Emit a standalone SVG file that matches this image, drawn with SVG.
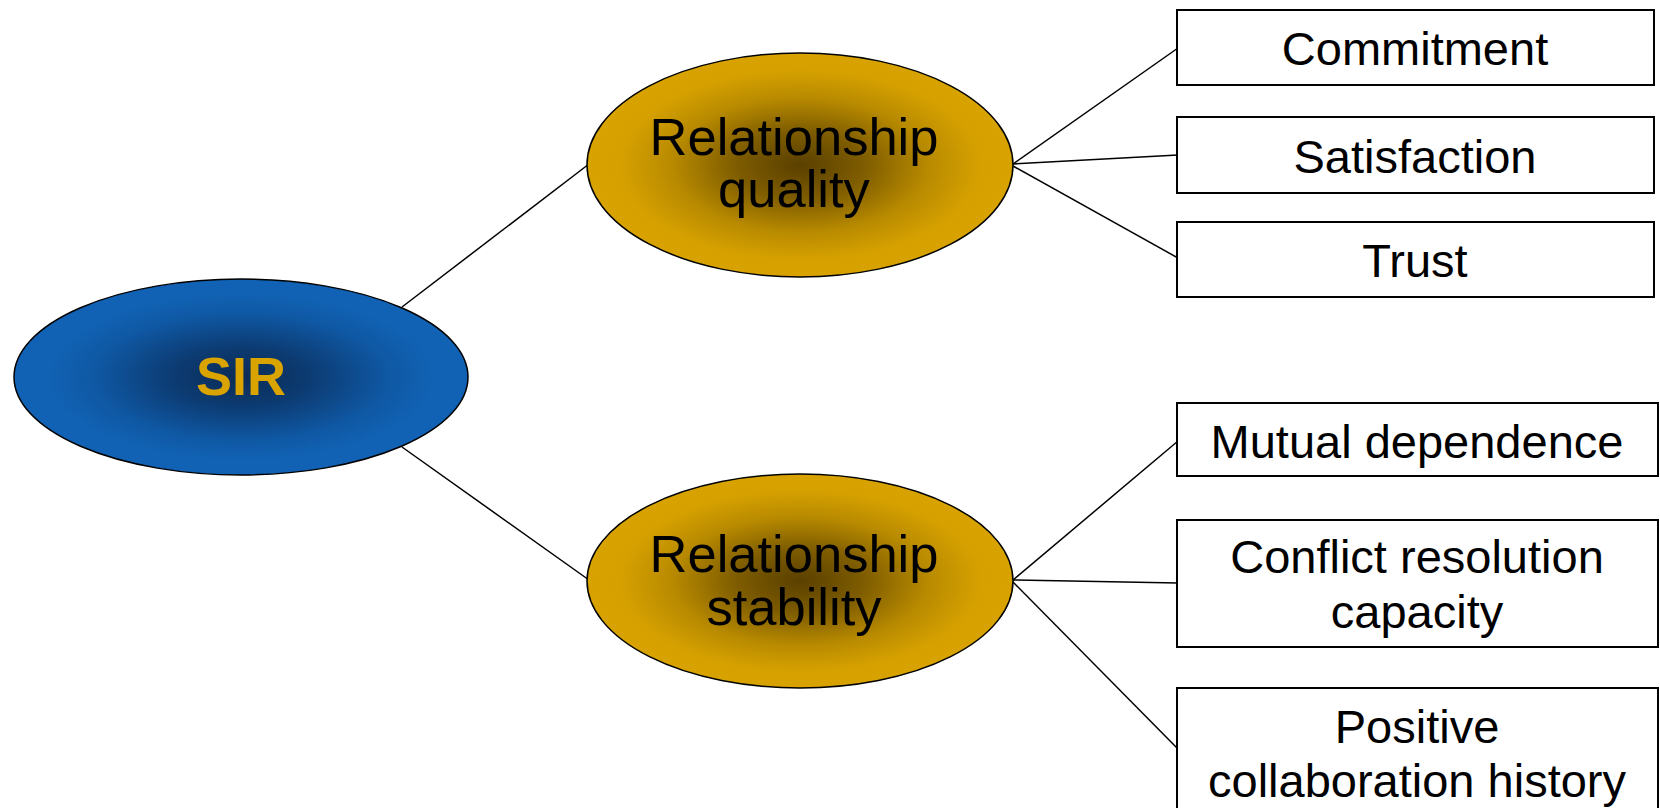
<svg xmlns="http://www.w3.org/2000/svg" width="1660" height="808" viewBox="0 0 1660 808">
<style>
.box{fill:#fff;stroke:#000;stroke-width:2}
.ell{stroke:#000;stroke-width:1.5}
.t{font-family:"Liberation Sans",Arial,sans-serif;font-size:47px;fill:#000;text-anchor:middle}
.te{font-family:"Liberation Sans",Arial,sans-serif;font-size:52.5px;fill:#000;text-anchor:middle}
.conn line{stroke:#000;stroke-width:1.5}
</style>
<defs>
<radialGradient id="gBlue" cx="50%" cy="50%" r="50%">
<stop offset="0" stop-color="#0a2c56"/>
<stop offset="0.3" stop-color="#0c3b72"/>
<stop offset="0.65" stop-color="#0f58a4"/>
<stop offset="0.85" stop-color="#1162b4"/>
<stop offset="1" stop-color="#1162b4"/>
</radialGradient>
<radialGradient id="gGold" cx="50%" cy="50%" r="50%">
<stop offset="0" stop-color="#5a4000"/>
<stop offset="0.3" stop-color="#7e5c00"/>
<stop offset="0.6" stop-color="#b88a00"/>
<stop offset="0.85" stop-color="#d6a100"/>
<stop offset="1" stop-color="#d8a300"/>
</radialGradient>
</defs>
<g id="connectors" class="conn">
<line x1="402" y1="307" x2="589" y2="164"/>
<line x1="402" y1="447" x2="589" y2="580"/>
<line x1="1013" y1="164" x2="1178" y2="48"/>
<line x1="1013" y1="164" x2="1178" y2="155"/>
<line x1="1013" y1="166" x2="1178" y2="258"/>
<line x1="1013" y1="580" x2="1178" y2="441"/>
<line x1="1013" y1="580" x2="1178" y2="583"/>
<line x1="1013" y1="582" x2="1178" y2="749"/>
</g>
<g id="sir">
<ellipse class="ell" cx="241" cy="377" rx="227" ry="98" fill="url(#gBlue)"/>
<text x="241" y="395" font-family="Liberation Sans,Arial,sans-serif" font-size="54" font-weight="bold" fill="#d9a300" text-anchor="middle">SIR</text>
</g>
<g id="relationship-quality">
<ellipse class="ell" cx="800" cy="165" rx="213" ry="112" fill="url(#gGold)"/>
<text class="te" x="794" y="155">Relationship</text>
<text class="te" x="794" y="207">quality</text>
</g>
<g id="relationship-stability">
<ellipse class="ell" cx="800" cy="581" rx="213" ry="107" fill="url(#gGold)"/>
<text class="te" x="794" y="572">Relationship</text>
<text class="te" x="794" y="625">stability</text>
</g>
<g id="commitment">
<rect class="box" x="1177" y="10" width="477" height="75"/>
<text class="t" x="1415" y="65">Commitment</text>
</g>
<g id="satisfaction">
<rect class="box" x="1177" y="117" width="477" height="76"/>
<text class="t" x="1415" y="173">Satisfaction</text>
</g>
<g id="trust">
<rect class="box" x="1177" y="222" width="477" height="75"/>
<text class="t" x="1415" y="277">Trust</text>
</g>
<g id="mutual-dependence">
<rect class="box" x="1177" y="403" width="481" height="73"/>
<text class="t" x="1417" y="458">Mutual dependence</text>
</g>
<g id="conflict-resolution">
<rect class="box" x="1177" y="520" width="481" height="127"/>
<text class="t" x="1417" y="573">Conflict resolution</text>
<text class="t" x="1417" y="628">capacity</text>
</g>
<g id="positive-collaboration">
<rect class="box" x="1177" y="688" width="481" height="140"/>
<text class="t" x="1417" y="743">Positive</text>
<text class="t" x="1417" y="797">collaboration history</text>
</g>
</svg>
